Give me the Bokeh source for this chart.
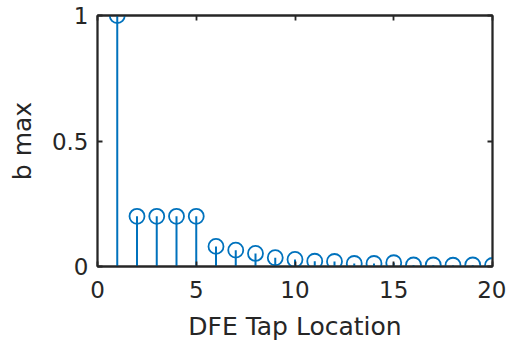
from bokeh.plotting import figure
from bokeh.models import FixedTicker, CustomJSTickFormatter, LinearAxis, Range1d
from bokeh.embed import file_html
from bokeh.resources import INLINE

taps = [1, 2, 3, 4, 5, 6, 7, 8, 9, 10, 11, 12, 13, 14, 15, 16, 17, 18, 19, 20]
b_max = [1.0, 0.2, 0.2, 0.2, 0.2, 0.08, 0.065, 0.052, 0.035, 0.028,
         0.021, 0.02, 0.012, 0.012, 0.015, 0.006, 0.006, 0.005, 0.006, 0.004]
x_ticks = [0, 5, 10, 15, 20]
y_ticks = [0, 0.5, 1]

BLUE = "#0072BD"
DARK = "#262626"
FONT = "DejaVu Sans"

p = figure(width=506, height=343, output_backend="svg", toolbar_location=None,
           x_range=Range1d(0, 20), y_range=Range1d(0, 1),
           min_border_left=97, min_border_right=14, min_border_top=15, min_border_bottom=77)
p.frame_width = 395
p.frame_height = 251
p.xgrid.visible = False
p.ygrid.visible = False
p.outline_line_color = DARK
p.outline_line_width = 1.8
p.outline_line_alpha = 1.0
p.background_fill_color = "white"
p.border_fill_color = "white"

fmt = CustomJSTickFormatter(code="return String(Math.round(tick*100)/100);")
blank = CustomJSTickFormatter(code="return '';")

for ax, ticks in ((p.xaxis[0], x_ticks), (p.yaxis[0], y_ticks)):
    ax.ticker = FixedTicker(ticks=ticks)
    ax.formatter = fmt
    ax.axis_line_color = DARK
    ax.axis_line_width = 1.8
    ax.major_tick_line_color = DARK
    ax.major_tick_line_width = 1.8
    ax.major_tick_in = 5
    ax.major_tick_out = 0
    ax.minor_tick_line_color = None
    ax.major_label_text_font = FONT
    ax.major_label_text_font_size = "23px"
    ax.major_label_text_color = DARK
    ax.axis_label_text_font = FONT
    ax.axis_label_text_font_size = "25px"
    ax.axis_label_text_font_style = "normal"
    ax.axis_label_text_color = DARK

p.xaxis[0].axis_label = "DFE Tap Location"
p.xaxis[0].major_label_standoff = 14
p.xaxis[0].axis_label_standoff = 11
p.yaxis[0].axis_label = "b max"
p.yaxis[0].major_label_standoff = 9
p.yaxis[0].axis_label_standoff = 12

# mirrored ticks (box on)
for loc, ticks in (("above", x_ticks), ("right", y_ticks)):
    ax = LinearAxis(ticker=FixedTicker(ticks=ticks), formatter=blank,
                    major_tick_in=5, major_tick_out=0, minor_tick_line_color=None,
                    axis_line_color=DARK, axis_line_width=1.8,
                    major_tick_line_color=DARK, major_tick_line_width=1.8,
                    major_label_standoff=0, major_label_text_font_size="1px")
    p.add_layout(ax, loc)

zeros = [0] * len(taps)
p.segment(x0=taps, y0=zeros, x1=taps, y1=b_max, line_color=BLUE, line_width=2)
p.scatter(x=taps, y=b_max, marker="circle", size=15, fill_color=None,
          line_color=BLUE, line_width=1.8)

open("out.html", "w").write(file_html(p, INLINE))
